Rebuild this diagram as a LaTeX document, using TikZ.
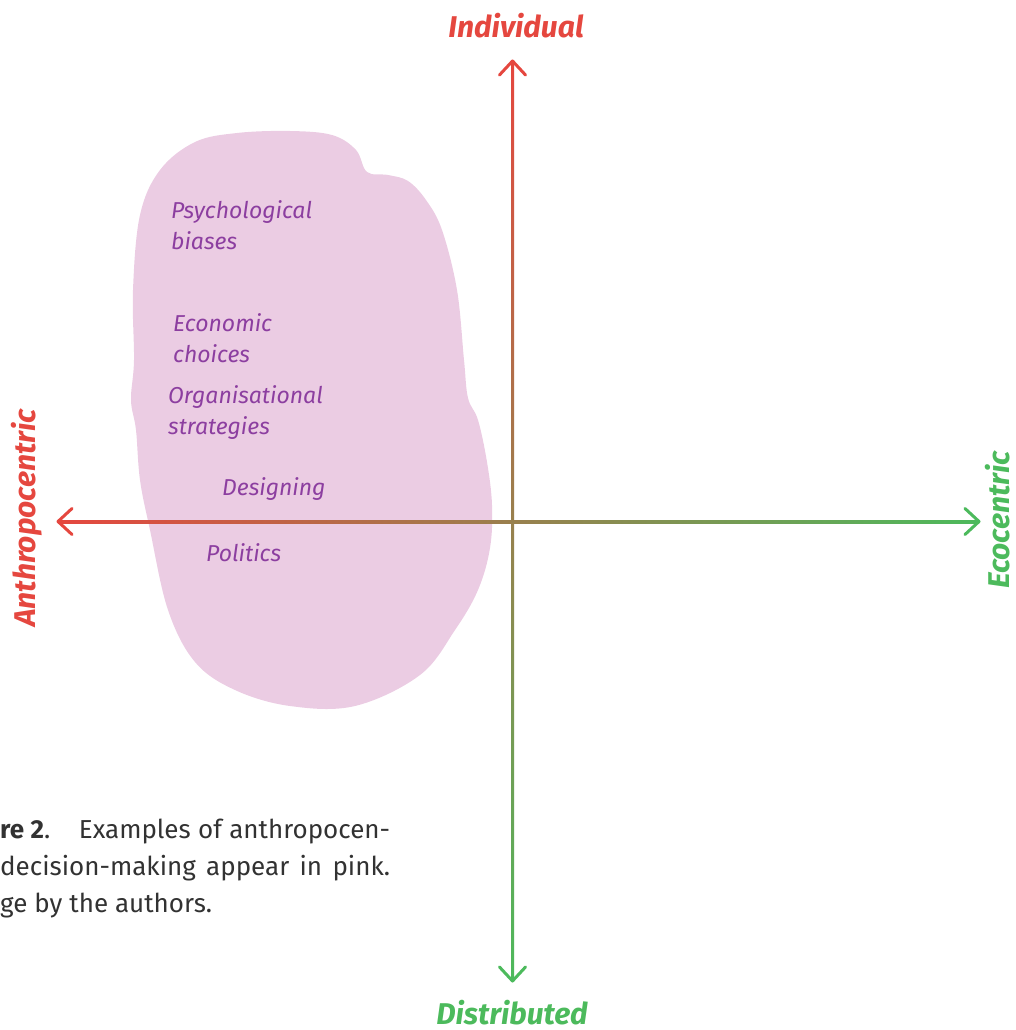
\documentclass[tikz,border=0pt]{standalone}
\usepackage{fontspec}
\setmainfont{Fira Sans}
\usetikzlibrary{arrows.meta}
\definecolor{axred}{RGB}{229,71,63}
\definecolor{axgreen}{RGB}{76,186,92}
\definecolor{blobpink}{RGB}{235,204,227}
\definecolor{txtpurple}{RGB}{140,62,160}
\definecolor{capgray}{RGB}{50,50,50}
\tikzset{
  axlabel/.style={font=\fontsize{30}{34}\selectfont\bfseries\itshape, inner sep=0pt, text depth=0pt},
  blobtext/.style={font=\fontsize{23}{31}\selectfont\itshape, text=txtpurple, inner sep=0pt, anchor=base west, align=left},
  captext/.style={font=\fontsize{26}{37}\selectfont, text=capgray, inner sep=0pt, anchor=base west},
  tipline/.style={line width=3pt, line cap=round, line join=round}
}
\begin{document}
\begin{tikzpicture}[x=1pt,y=-1pt]
\useasboundingbox (0,0) rectangle (1016,1030);
% blob
\fill[blobpink] plot[smooth cycle, tension=0.6] coordinates {
 (237,133) (290,131) (332,135) (356,150) (367,172) (388,175) (408,181) (426,200)
 (442,230) (457,290) (464,360) (468,398) (478,420) (487,462) (492,505)
 (490,548) (478,590) (455,630) (420,675) (355,706) (290,706) (235,690)
 (195,662) (168,610) (150,530) (140,480) (136,430) (131,400) (134,360)
 (133,290) (140,215) (160,170) (195,142)};
% axis coordinates
\coordinate (W) at (58,521.5);
\coordinate (E) at (979,521.5);
\coordinate (N) at (512.5,61);
\coordinate (S) at (512.5,981);
% axes with gradients
\shade[left color=axred, right color=axgreen] ([yshift=1.5pt]W) rectangle ([yshift=-1.5pt]E);
\shade[top color=axred, bottom color=axgreen] ([xshift=-1.5pt]N) rectangle ([xshift=1.5pt]S);
\draw[tipline, axred] ([xshift=14pt,yshift=13pt]W) -- (W) -- ([xshift=14pt,yshift=-13pt]W);
\draw[tipline, axgreen] ([xshift=-14pt,yshift=13pt]E) -- (E) -- ([xshift=-14pt,yshift=-13pt]E);
\draw[tipline, axred] ([xshift=-13pt,yshift=-14pt]N) -- (N) -- ([xshift=13pt,yshift=-14pt]N);
\draw[tipline, axgreen] ([xshift=-13pt,yshift=14pt]S) -- (S) -- ([xshift=13pt,yshift=14pt]S);
% axis labels
\node[axlabel, text=axred, anchor=base] (ind) at (516,38) {Individual};
\node[axlabel, text=axgreen, anchor=base] (dis) at (512,1024) {Distributed};
\node[axlabel, text=axred, anchor=base, rotate=90] (ant) at (35,518) {Anthropocentric};
\node[axlabel, text=axgreen, anchor=base, rotate=90] (eco) at (1009,520) {Ecocentric};
% blob texts
\node[blobtext] (psy) at (171,249) {Psychological\\biases};
\node[blobtext] (econ) at (173,362) {Economic\\choices};
\node[blobtext] (org) at (168,434) {Organisational\\strategies};
\node[blobtext] (des) at (222,495) {Designing};
\node[blobtext] (pol) at (206,561) {Politics};
% caption
\node[captext] (cap1) at (0,838) {\makebox[390pt][s]{\textbf{re 2}.\hspace{18pt} Examples of anthropocen-}};
\node[captext] (cap2) at (0,875) {\makebox[390pt][s]{decision-making appear in pink.}};
\node[captext] (cap3) at (0,912) {ge by the authors.};
\end{tikzpicture}
\end{document}
